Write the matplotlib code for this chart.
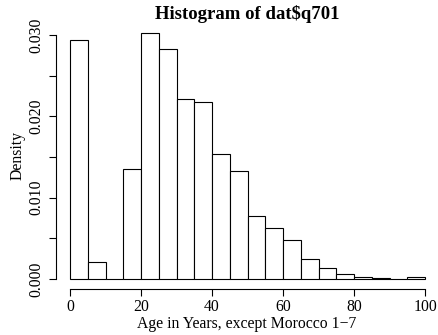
import matplotlib
matplotlib.use("Agg")
import matplotlib.pyplot as plt
import numpy as np

# bin edges (width 5) and densities
bin_edges = list(range(0, 105, 5))
density = [0.02943, 0.00213, 0.0, 0.01353, 0.03025, 0.02828, 0.0221, 0.02173,
           0.01541, 0.01324, 0.00778, 0.00631, 0.00476, 0.00242, 0.00131,
           0.00066, 0.0002, 0.0001, 0.0, 0.0003]
x_ticks = [0, 20, 40, 60, 80, 100]
y_ticks = [0.000, 0.005, 0.010, 0.015, 0.020, 0.025, 0.030]
y_tick_labels = ["0.000", "", "0.010", "", "0.020", "", "0.030"]

plt.rcParams["font.family"] = ["Liberation Serif", "DejaVu Serif"]

fig = plt.figure(figsize=(4.38, 3.35), dpi=100)
ax = fig.add_axes([0.1274, 0.1379, 0.8726, 0.7931])

lefts = np.array(bin_edges[:-1])
widths = np.diff(bin_edges)
ax.bar(lefts, density, width=widths, align="edge", facecolor="white",
       edgecolor="black", linewidth=0.8)

ax.set_xlim(-4, 103.66)
ax.set_ylim(-0.00121, 0.03146)

for side in ["top", "right"]:
    ax.spines[side].set_visible(False)
ax.spines["left"].set_bounds(0, 0.030)
ax.spines["bottom"].set_bounds(0, 100)
ax.spines["left"].set_linewidth(0.8)
ax.spines["bottom"].set_linewidth(0.8)

ax.set_xticks(x_ticks)
ax.set_yticks(y_ticks)
ax.set_yticklabels(y_tick_labels, rotation=90, va="center")
ax.tick_params(axis="both", length=5, width=0.8, labelsize=11.3)
ax.tick_params(axis="x", pad=2)
ax.tick_params(axis="y", pad=3)

ax.set_title("Histogram of dat$q701", fontsize=13.5, fontweight="bold", pad=3)
ax.set_xlabel("Age in Years, except Morocco 1\u22127", fontsize=11.3, labelpad=1)
ax.set_ylabel("Density", fontsize=11.3, labelpad=2)

fig.savefig("out.png", dpi=100)
